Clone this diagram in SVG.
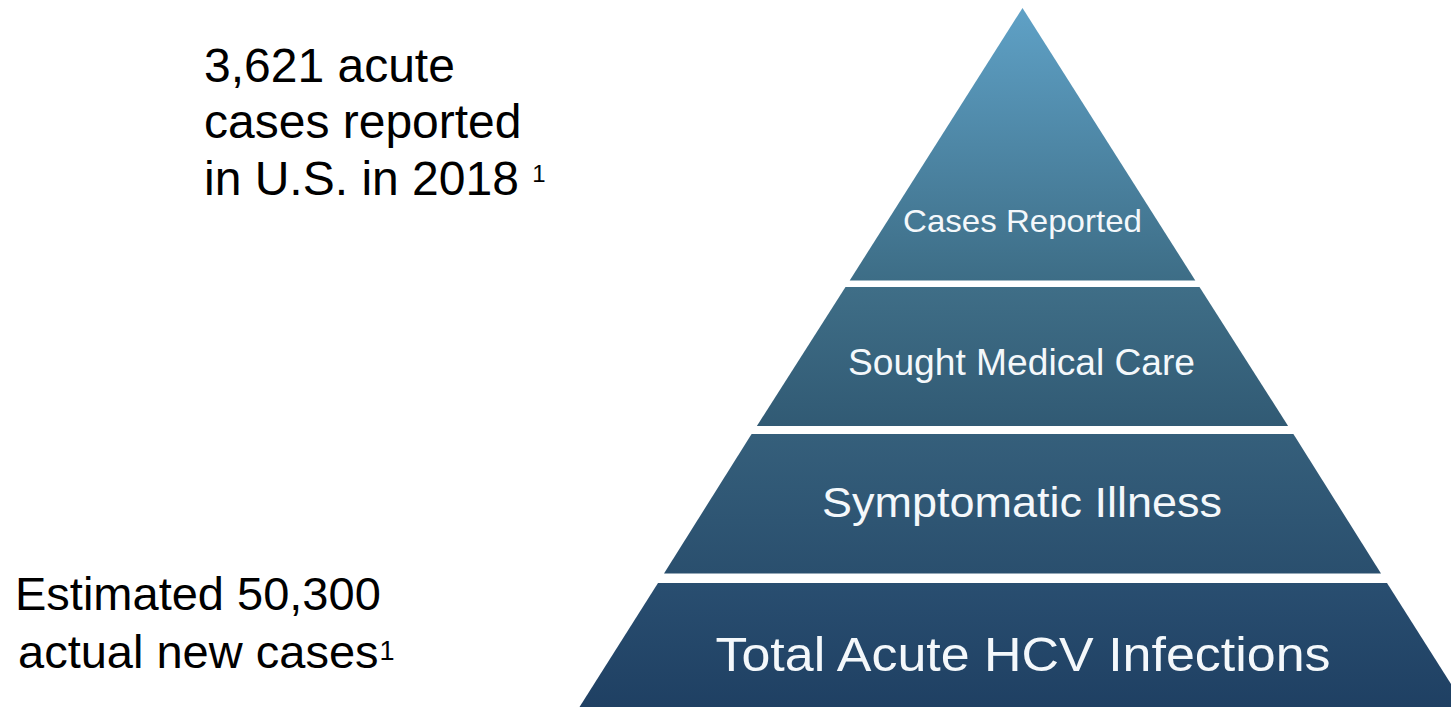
<svg xmlns="http://www.w3.org/2000/svg" width="1451" height="707" viewBox="0 0 1451 707">
  <style>
    .note { font-family: "Liberation Sans", Arial, sans-serif; font-size: 47px; fill: #000000; }
    .note-lg { font-size: 48px; }
    .sup { font-size: 24px; }
    .sup-lg { font-size: 27px; }
    .tier-label { font-family: "Liberation Sans", Arial, sans-serif; fill: #f4f8fb; text-anchor: middle; }
  </style>
  <defs>
    <linearGradient id="g1" x1="0" y1="8" x2="0" y2="281" gradientUnits="userSpaceOnUse">
      <stop offset="0" stop-color="#5fa1c6"/>
      <stop offset="1" stop-color="#3d6d86"/>
    </linearGradient>
    <linearGradient id="g2" x1="0" y1="287" x2="0" y2="426" gradientUnits="userSpaceOnUse">
      <stop offset="0" stop-color="#3f6e87"/>
      <stop offset="1" stop-color="#315a74"/>
    </linearGradient>
    <linearGradient id="g3" x1="0" y1="434" x2="0" y2="574" gradientUnits="userSpaceOnUse">
      <stop offset="0" stop-color="#355f7b"/>
      <stop offset="1" stop-color="#2a4f6e"/>
    </linearGradient>
    <linearGradient id="g4" x1="0" y1="583" x2="0" y2="707" gradientUnits="userSpaceOnUse">
      <stop offset="0" stop-color="#294e70"/>
      <stop offset="1" stop-color="#1f4063"/>
    </linearGradient>
  </defs>

  <rect x="0" y="0" width="1451" height="707" fill="#ffffff"/>

  <!-- side notes -->
  <g id="note-reported">
    <text class="note note-lg" x="204" y="82">3,621 acute</text>
    <text class="note note-lg" x="204" y="138">cases reported</text>
    <text class="note note-lg" x="204" y="195">in U.S. in 2018 <tspan class="sup" dy="-13">1</tspan></text>
  </g>
  <g id="note-estimated">
    <text class="note" x="15" y="610">Estimated 50,300</text>
    <text class="note" x="18" y="668">actual new cases<tspan class="sup sup-lg" dx="1" dy="-8">1</tspan></text>
  </g>

  <!-- pyramid tiers, top to bottom -->
  <g id="tier-reported">
    <polygon points="1022.5,8 1195.3,280.5 849.7,280.5" fill="url(#g1)"/>
    <text class="tier-label" x="1022.5" y="232" font-size="32" textLength="239" lengthAdjust="spacingAndGlyphs">Cases Reported</text>
  </g>
  <g id="tier-medical">
    <polygon points="845.5,287 1199.5,287 1288.1,426 756.9,426" fill="url(#g2)"/>
    <text class="tier-label" x="1021.5" y="375" font-size="36" textLength="347" lengthAdjust="spacingAndGlyphs">Sought Medical Care</text>
  </g>
  <g id="tier-symptomatic">
    <polygon points="751.6,434 1293.4,434 1381,573.5 664,573.5" fill="url(#g3)"/>
    <text class="tier-label" x="1022" y="517" font-size="43" textLength="400" lengthAdjust="spacingAndGlyphs">Symptomatic Illness</text>
  </g>
  <g id="tier-total">
    <polygon points="658,583 1387,583 1465.5,707 579.5,707" fill="url(#g4)"/>
    <text class="tier-label" x="1023" y="671" font-size="49" textLength="615" lengthAdjust="spacingAndGlyphs">Total Acute HCV Infections</text>
  </g>
</svg>
